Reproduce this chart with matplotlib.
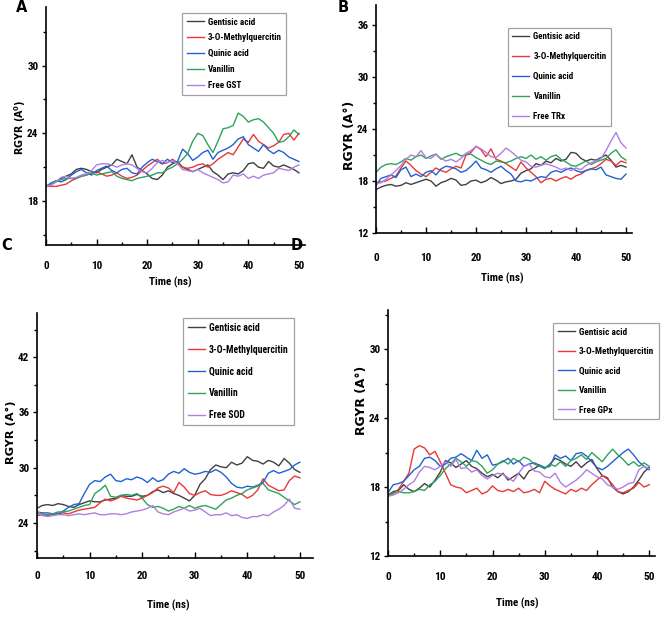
import matplotlib
matplotlib.use("Agg")
import matplotlib.pyplot as plt
from matplotlib import font_manager as fm
from matplotlib.font_manager import FontProperties
from matplotlib.ticker import MultipleLocator

time_ns = list(range(0, 51))
series_names = ["Gentisic acid", "3-O-Methylquercitin", "Quinic acid", "Vanillin"]
free_names = ["Free GST", "Free TRx", "Free SOD", "Free GPx"]
colors = ["#404040", "#e8383a", "#1f62d4", "#2ea35c", "#b07fe0"]

# Panel A (GST)
a_gentisic = [19.3,19.5,19.7,20.0,20.2,20.4,20.8,20.9,20.8,20.6,20.5,20.8,21.0,21.2,21.7,21.5,21.3,22.1,21.0,20.7,20.4,20.0,19.9,20.3,21.0,21.3,21.5,21.0,20.8,20.6,20.8,21.0,21.2,20.6,20.3,19.9,20.4,20.5,20.4,20.7,21.3,21.4,21.0,20.9,21.5,21.1,21.0,21.2,21.0,20.8,20.5]
a_methyl = [19.3,19.3,19.3,19.4,19.5,19.8,20.0,20.2,20.3,20.5,20.6,20.4,20.2,20.3,20.5,20.2,20.0,20.1,20.3,20.7,21.1,21.4,21.7,21.3,21.4,21.7,21.4,21.0,20.9,21.0,21.2,21.3,21.0,21.3,21.7,22.0,22.3,22.1,22.8,23.5,23.2,23.9,23.3,23.0,22.7,22.9,23.2,23.9,24.0,23.4,24.0]
a_quinic = [19.3,19.6,19.8,19.7,19.9,20.3,20.6,20.8,20.5,20.3,20.7,20.9,21.1,20.7,20.5,20.8,20.9,20.5,20.4,21.0,21.4,21.7,21.5,21.3,21.7,21.4,21.5,22.6,22.2,21.6,21.9,22.3,22.5,21.7,22.3,22.5,22.7,23.0,23.5,23.7,23.0,22.7,22.4,23.0,22.5,22.2,22.5,22.3,21.9,21.7,21.5]
a_vanillin = [19.3,19.5,19.8,19.9,20.0,20.0,20.0,20.2,20.3,20.5,20.3,20.4,20.5,20.6,20.2,20.0,19.9,19.8,20.0,20.1,20.2,20.3,20.5,20.5,20.8,21.0,21.3,21.7,22.2,23.3,24.0,23.8,23.0,22.3,23.3,24.4,24.5,24.7,25.8,25.5,25.0,25.2,25.3,25.0,24.5,24.0,23.2,23.3,23.7,24.3,23.9]
a_free = [19.3,19.4,19.7,20.1,20.2,20.0,20.1,20.3,20.4,20.7,21.2,21.3,21.3,21.2,21.0,21.2,21.3,21.2,20.9,20.6,20.5,20.9,21.4,21.6,21.4,21.6,21.3,20.8,20.7,20.6,20.8,20.5,20.3,20.1,19.9,19.6,19.7,20.3,20.2,20.4,20.0,20.2,20.0,20.3,20.4,20.5,20.9,20.8,20.7,21.0,21.2]

# Panel B (TRx)
b_gentisic = [17.0,17.3,17.5,17.6,17.4,17.5,17.8,17.6,17.8,18.0,18.2,18.0,17.4,17.8,18.0,18.3,18.1,17.5,17.6,18.0,18.1,17.8,18.0,18.4,18.1,17.7,17.9,18.0,18.2,18.9,19.2,19.4,20.0,19.8,20.3,20.1,20.6,20.3,20.5,21.3,21.2,20.6,20.3,20.5,20.4,20.7,21.0,20.4,19.6,19.8,19.6]
b_methyl = [17.8,17.9,18.0,18.3,18.6,19.5,20.3,19.8,19.2,18.8,18.5,19.0,19.5,19.2,19.0,19.4,19.7,19.5,21.0,21.3,22.0,21.6,20.8,21.7,20.5,20.3,20.0,19.6,19.2,20.2,19.5,19.0,18.5,17.8,18.2,18.3,18.0,18.3,18.5,18.2,18.6,18.8,19.2,19.4,19.6,20.0,20.5,20.3,19.8,20.3,20.1]
b_quinic = [17.5,18.3,18.5,18.7,18.4,19.3,19.6,18.5,18.8,18.5,19.0,19.2,18.7,19.4,19.7,19.6,19.4,19.0,19.2,19.7,20.3,19.5,19.3,19.0,19.4,19.7,19.2,18.8,18.0,17.9,18.1,18.0,18.3,18.5,18.4,19.0,19.2,19.0,19.3,19.5,19.2,19.0,19.2,19.4,19.3,19.6,18.7,18.5,18.3,18.2,18.8]
b_vanillin = [19.0,19.6,19.9,20.0,19.9,20.2,20.6,20.4,20.8,21.0,20.6,20.9,21.1,20.5,20.8,21.0,21.2,20.9,21.0,21.1,20.7,20.4,20.1,19.9,20.3,20.2,20.1,20.3,20.6,20.8,20.6,21.0,20.5,20.8,20.4,20.8,21.0,20.5,20.2,19.8,19.7,20.0,20.3,19.9,20.2,20.4,20.6,21.2,21.6,20.8,20.4]
b_free = [17.7,17.8,18.2,18.7,19.2,19.8,20.5,21.0,20.8,21.5,20.7,20.6,21.1,20.6,20.3,20.5,20.2,20.6,21.2,21.5,22.0,21.7,21.3,20.8,20.7,21.2,21.8,21.4,20.9,20.4,20.2,19.7,19.6,19.8,20.0,19.8,19.6,19.3,19.5,19.2,19.5,19.3,19.8,20.1,20.3,20.6,21.5,22.6,23.6,22.4,21.8]

# Panel C (SOD)
c_gentisic = [25.6,25.9,26.0,25.9,26.1,26.0,25.8,25.7,26.0,26.2,26.4,26.3,26.3,26.5,26.6,26.7,27.0,26.9,26.9,27.1,26.9,27.0,27.4,27.6,27.3,27.5,27.2,27.0,26.7,26.4,27.0,28.2,28.8,29.8,30.3,30.1,30.0,30.6,30.3,30.5,31.2,30.8,30.7,30.4,30.8,30.6,30.2,31.0,30.5,29.8,29.5]
c_methyl = [24.8,24.9,24.8,24.9,25.0,25.1,25.0,25.2,25.4,25.5,25.6,25.7,26.2,26.6,26.4,26.6,26.9,26.7,26.6,26.5,26.7,27.0,27.3,27.8,28.0,27.8,27.3,28.4,27.9,27.2,27.0,27.3,27.5,27.1,27.0,27.0,27.2,27.5,27.3,27.1,26.7,27.0,27.6,28.8,28.1,27.8,27.5,27.6,28.6,29.1,28.9]
c_quinic = [25.2,25.1,25.1,25.0,25.0,25.3,25.7,26.0,26.1,27.2,28.2,28.6,28.5,29.0,29.3,28.6,28.5,28.8,28.7,29.0,28.8,28.4,28.9,28.5,28.7,29.3,29.6,29.4,29.9,29.5,29.3,29.4,29.6,29.5,29.8,29.5,29.0,28.3,27.9,27.8,28.0,27.9,28.1,28.4,29.4,29.7,29.4,29.6,29.8,30.3,30.6]
c_vanillin = [25.0,25.0,24.9,25.0,25.2,25.2,25.3,25.5,25.7,25.9,26.0,27.2,27.6,28.1,26.9,26.8,27.0,27.1,27.0,27.2,26.7,26.0,25.7,25.8,25.6,25.3,25.5,25.8,25.6,25.9,25.6,25.8,25.9,25.7,25.5,26.0,26.5,26.7,27.0,27.2,27.6,27.8,28.0,28.3,27.6,27.4,27.2,26.8,26.4,26.0,26.3]
c_free = [25.3,24.8,24.7,24.8,24.9,24.9,24.8,24.9,25.0,24.9,25.0,25.1,24.9,24.9,25.0,25.0,24.9,25.0,25.2,25.3,25.4,25.6,25.9,25.2,25.0,24.9,25.2,25.4,25.6,25.3,25.4,25.6,25.2,24.8,24.9,24.9,25.1,24.8,24.9,24.6,24.5,24.7,24.7,24.9,24.8,25.2,25.5,25.9,26.6,25.6,25.5]

# Panel D (GPx)
d_gentisic = [17.3,17.6,17.7,18.2,17.8,17.6,17.9,18.3,18.0,18.6,19.3,20.3,20.1,19.7,20.0,20.3,19.8,19.6,19.2,18.9,19.1,18.8,19.2,18.6,18.9,19.2,18.7,19.4,19.6,19.9,19.6,20.0,20.5,20.3,20.0,19.8,20.2,19.7,20.1,20.4,19.6,19.0,18.8,18.0,17.6,17.4,17.6,18.0,18.6,19.3,19.7]
d_methyl = [17.3,17.4,17.8,18.5,19.2,21.3,21.6,21.4,20.8,21.1,20.2,19.2,18.2,18.0,17.9,17.5,17.7,17.9,17.4,17.6,18.1,17.7,17.6,17.8,17.6,17.9,17.5,17.6,17.8,17.5,18.5,18.1,17.8,17.6,17.4,17.8,17.6,17.9,17.7,18.2,18.6,19.0,18.7,18.2,17.6,17.5,17.7,17.9,18.4,18.0,18.2]
d_quinic = [17.5,18.2,18.3,18.5,19.0,19.5,19.8,20.5,20.6,20.3,19.8,20.0,20.5,20.6,20.9,20.6,20.3,21.2,20.5,20.8,19.9,20.0,20.2,20.5,20.0,20.3,19.8,20.0,20.1,19.9,19.7,19.8,20.8,20.5,20.7,20.3,20.9,21.0,20.7,20.2,19.7,19.5,19.8,20.2,20.6,21.0,21.3,20.8,20.2,19.8,19.5]
d_vanillin = [17.2,17.5,17.6,17.5,17.5,17.6,17.8,17.7,18.2,18.5,19.0,19.6,20.0,20.5,20.2,19.8,20.3,20.2,19.8,19.2,19.5,20.0,20.3,20.0,20.5,20.2,20.6,20.4,20.0,19.8,19.6,20.0,19.8,20.2,19.8,20.3,20.5,20.8,20.4,21.0,20.6,20.2,20.8,21.3,20.8,20.4,19.9,20.2,19.8,20.1,19.8]
d_free = [17.2,17.3,17.5,17.8,18.2,18.5,19.3,19.8,19.7,19.5,19.8,20.2,19.8,20.4,19.6,19.7,19.3,19.5,19.0,18.7,19.0,19.2,19.1,18.8,18.5,19.2,19.8,20.0,19.4,19.3,18.9,18.8,19.2,18.4,18.0,18.3,18.6,19.0,19.5,19.2,18.9,18.7,18.2,18.0,17.8,18.0,18.3,18.4,19.5,19.8,19.6]

panel_data = [
    [a_gentisic, a_methyl, a_quinic, a_vanillin, a_free],
    [b_gentisic, b_methyl, b_quinic, b_vanillin, b_free],
    [c_gentisic, c_methyl, c_quinic, c_vanillin, c_free],
    [d_gentisic, d_methyl, d_quinic, d_vanillin, d_free],
]
x_ticks = [0, 10, 20, 30, 40, 50]
y_majors = [[18, 24, 30], [12, 18, 24, 30, 36], [24, 30, 36, 42], [12, 18, 24, 30]]
ylabels = ["RGYR (A$^{\\mathbf{0}}$)", "RGYR (A°)", "RGYR (A°)", "RGYR (A°)"]
panel_letters = ["A", "B", "C", "D"]

# ---- font choice: look for a narrow / condensed bold sans file ----
def pick_narrow():
    prefs = ["liberation", "arial", "roboto", "noto", "open", "dejavu", "lato", "inter"]
    best = None
    for f in fm.fontManager.ttflist:
        low = (f.fname + " " + f.name).lower()
        if any(b in low for b in ["mono", "serif", "italic", "oblique", "extracond", "extra cond",
                                   "ultra", "cjk", "light", "black", "medium", "thin"]):
            continue
        is_narrow = ("narrow" in low or "condensed" in low or "cond" in low
                     or str(f.stretch) in ("condensed", "semi-condensed"))
        w = f.weight if isinstance(f.weight, int) else (700 if "bold" in str(f.weight) else 400)
        if not is_narrow or w < 600:
            continue
        rank = next((k for k, p in enumerate(prefs) if p in low), len(prefs))
        if "semi" in low:
            rank += 0.5
        if best is None or rank < best[0]:
            best = (rank, f.fname)
    return best[1] if best else None

NARROW_FILE = pick_narrow()
WIDE = ["DejaVu Sans"]
BASE = ["Liberation Sans", "DejaVu Sans"]
plt.rcParams["font.family"] = BASE
plt.rcParams["font.weight"] = "bold"

def fp(size):
    if NARROW_FILE:
        return FontProperties(fname=NARROW_FILE, size=size)
    return FontProperties(family=BASE, weight="bold", size=size)

W, H = 661, 618
def fx(px):
    return px / W
def fy(py):
    return 1 - py / H

fig = plt.figure(figsize=(6.61, 6.18), dpi=100)
renderer = fig.canvas.get_renderer()

def fit_size(text, target_px, props_fn, lo, hi):
    t = fig.text(0, 0, text, fontproperties=props_fn(10))
    w = t.get_window_extent(renderer).width
    t.remove()
    s = 10.0 * target_px / w
    return max(lo, min(hi, s))

def wide_fp(size):
    return FontProperties(family=WIDE, weight="bold", size=size)

layouts = [
    dict(l=46, r=305, t=7, b=245, ylim=(14.1, 35.2), xmax=51.2, xlab_y=266, ytick_w=8, xtick_w=9,
         leg=(182, 13), leg_w=74, row=17.8, ylab=(20, 127), ylab_h=55, xlab=(170, 282), time_w=36),
    dict(l=376, r=632, t=5, b=233, ylim=(12, 38.3), xmax=51.2, xlab_y=258, ytick_w=10, xtick_w=10,
         leg=(508, 28), leg_w=73, row=21.7, ylab=(350, 135), ylab_h=70, xlab=(502, 278), time_w=36),
    dict(l=37, r=313, t=313, b=558, ylim=(20.2, 46.8), xmax=52.5, xlab_y=576, ytick_w=9.5, xtick_w=11,
         leg=(183, 318), leg_w=80, row=23.6, ylab=(11, 432), ylab_h=64, xlab=(168, 605), time_w=38),
    dict(l=388, r=655, t=310, b=556, ylim=(12, 33.4), xmax=51.1, xlab_y=577, ytick_w=10, xtick_w=11.5,
         leg=(553, 323), leg_w=76, row=21.7, ylab=(361, 400), ylab_h=70, xlab=(517, 603), time_w=40),
]

lo_leg = 6.0
for i, lay in enumerate(layouts):
    ax = fig.add_axes([fx(lay["l"]), fy(lay["b"]), fx(lay["r"] - lay["l"]), (lay["b"] - lay["t"]) / H])
    for j, ys in enumerate(panel_data[i]):
        label = series_names[j] if j < 4 else free_names[i]
        ax.plot(time_ns, ys, color=colors[j], lw=1.0, label=label)
    ax.set_xlim(0, lay["xmax"])
    ax.set_ylim(*lay["ylim"])
    ax.set_xticks(x_ticks)
    ax.xaxis.set_minor_locator(MultipleLocator(5))
    ax.set_yticks(y_majors[i])
    ax.yaxis.set_minor_locator(MultipleLocator(3))
    for s in ["top", "right"]:
        ax.spines[s].set_visible(False)
    for s in ["left", "bottom"]:
        ax.spines[s].set_linewidth(1.2)

    xts = fit_size("50", lay["xtick_w"], fp, 8.0, 10)
    yts = fit_size("30", lay["ytick_w"], fp, 8.0, 10)
    xpad_px = lay["xlab_y"] - lay["b"] - xts * 100 / 72 * 0.45
    ax.tick_params(axis="x", which="major", direction="in", length=4, width=1,
                   pad=max(2, xpad_px * 0.72))
    ax.tick_params(axis="x", which="minor", direction="in", length=2.5, width=1)
    ax.tick_params(axis="y", which="major", direction="out", length=3, width=1, pad=2.5)
    ax.tick_params(axis="y", which="minor", direction="out", length=2, width=1)
    for t in ax.get_xticklabels():
        t.set_fontproperties(fp(xts))
    for t in ax.get_yticklabels():
        t.set_fontproperties(fp(yts))

    lfs = fit_size("3-O-Methylquercitin", lay["leg_w"], fp, lo_leg, 10)
    fs_px = lfs * 100 / 72
    leg = ax.legend(loc="upper left", bbox_to_anchor=(fx(lay["leg"][0]), fy(lay["leg"][1])),
                    bbox_transform=fig.transFigure, frameon=True, fancybox=False,
                    prop=fp(lfs),
                    handlelength=17 / fs_px, handletextpad=4 / fs_px,
                    labelspacing=max(0.1, (lay["row"] - 1.2 * fs_px) / fs_px),
                    borderpad=0.5, borderaxespad=0)
    leg.get_frame().set_edgecolor("#8a8a8a")
    leg.get_frame().set_linewidth(0.9)

    yls = fit_size(ylabels[i], lay["ylab_h"], wide_fp, 5, 9)
    fig.text(fx(lay["ylab"][0]), fy(lay["ylab"][1]), ylabels[i], rotation=90,
             ha="center", va="center", fontproperties=wide_fp(yls))
    tfs = fit_size("Time (ns)", lay["time_w"], fp, 8.0, 10)
    fig.text(fx(lay["xlab"][0]), fy(lay["xlab"][1]), "Time (ns)", ha="center", va="center",
             fontproperties=fp(tfs))

letter_pos = [(22, 7), (343, 7), (7, 245), (297, 246)]
for k, (px, py) in enumerate(letter_pos):
    fig.text(fx(px), fy(py), panel_letters[k], ha="center", va="center",
             fontproperties=wide_fp(10.5))

fig.savefig("out.png", dpi=100)
